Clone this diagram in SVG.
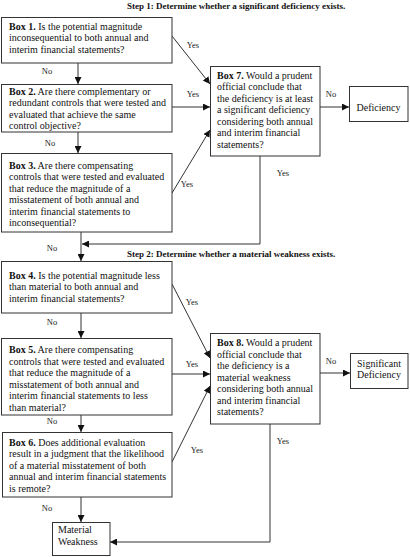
<svg xmlns="http://www.w3.org/2000/svg" width="410" height="557" viewBox="0 0 410 557">
<style>
.box{fill:#fff;stroke:#333;stroke-width:1}
.t{font-family:"Liberation Serif","Times New Roman",serif;font-size:10px;fill:#111}
.b{font-weight:bold}
.lbl{font-family:"Liberation Serif","Times New Roman",serif;font-size:8.5px;fill:#222}
.step{font-family:"Liberation Serif","Times New Roman",serif;font-size:9px;font-weight:bold;fill:#111}
.c{fill:none;stroke:#333;stroke-width:1}
</style>
<defs>
<marker id="ah" viewBox="0 0 10 10" refX="10" refY="5" markerWidth="7" markerHeight="7" markerUnits="userSpaceOnUse" orient="auto">
<path d="M0,0 L10,5 L0,10 z" fill="#111"/>
</marker>
</defs>
<rect width="410" height="557" fill="#fff"/>
<text class="step" x="127" y="8.5">Step 1: Determine whether a significant deficiency exists.</text>
<text class="step" x="127" y="256.5">Step 2: Determine whether a material weakness exists.</text>

<g id="connectors">
<path class="c" d="M78,63 V84" marker-end="url(#ah)"/>
<path class="c" d="M78,132 V153" marker-end="url(#ah)"/>
<path class="c" d="M81,232 V261" marker-end="url(#ah)"/>
<path class="c" d="M81,313 V338" marker-end="url(#ah)"/>
<path class="c" d="M81,415 V432" marker-end="url(#ah)"/>
<path class="c" d="M81,497 V522" marker-end="url(#ah)"/>
<path class="c" d="M172,36 L210,84" marker-end="url(#ah)"/>
<path class="c" d="M172,107 H210" marker-end="url(#ah)"/>
<path class="c" d="M172,193 L210,130" marker-end="url(#ah)"/>
<path class="c" d="M320,107 H349" marker-end="url(#ah)"/>
<path class="c" d="M260,156 V244 H82" marker-end="url(#ah)"/>
<path class="c" d="M172,284 L210,358" marker-end="url(#ah)"/>
<path class="c" d="M172,374 H210" marker-end="url(#ah)"/>
<path class="c" d="M172,462 L210,386" marker-end="url(#ah)"/>
<path class="c" d="M320,373 H350" marker-end="url(#ah)"/>
<path class="c" d="M270,424 V542 H110" marker-end="url(#ah)"/>
<text class="lbl" x="47" y="74" text-anchor="middle">No</text>
<text class="lbl" x="50" y="146" text-anchor="middle">No</text>
<text class="lbl" x="52" y="251" text-anchor="middle">No</text>
<text class="lbl" x="52" y="325" text-anchor="middle">No</text>
<text class="lbl" x="52" y="424" text-anchor="middle">No</text>
<text class="lbl" x="47" y="511" text-anchor="middle">No</text>
<text class="lbl" x="193" y="48" text-anchor="middle">Yes</text>
<text class="lbl" x="193" y="97" text-anchor="middle">Yes</text>
<text class="lbl" x="187" y="187" text-anchor="middle">Yes</text>
<text class="lbl" x="283" y="176" text-anchor="middle">Yes</text>
<text class="lbl" x="331" y="97" text-anchor="middle">No</text>
<text class="lbl" x="192" y="305" text-anchor="middle">Yes</text>
<text class="lbl" x="192" y="367" text-anchor="middle">Yes</text>
<text class="lbl" x="197" y="453" text-anchor="middle">Yes</text>
<text class="lbl" x="331" y="364" text-anchor="middle">No</text>
<text class="lbl" x="283" y="444" text-anchor="middle">Yes</text>
</g>

<g id="box1">
<rect class="box" x="1.5" y="17.5" width="170.5" height="45.5"/>
<text class="t" x="9" y="29.5"><tspan class="b">Box 1.</tspan> Is the potential magnitude<tspan x="9" dy="11.5">inconsequential to both annual and</tspan><tspan x="9" dy="11.5">interim financial statements?</tspan></text>
</g>
<g id="box2">
<rect class="box" x="1.5" y="84.5" width="170.5" height="47.5"/>
<text class="t" x="9" y="94.5"><tspan class="b">Box 2.</tspan> Are there complementary or<tspan x="9" dy="11.5">redundant controls that were tested and</tspan><tspan x="9" dy="11.5">evaluated that achieve the same</tspan><tspan x="9" dy="11.5">control objective?</tspan></text>
</g>
<g id="box3">
<rect class="box" x="1.5" y="153.5" width="170.5" height="78.5"/>
<text class="t" x="9" y="168.5"><tspan class="b">Box 3.</tspan> Are there compensating<tspan x="9" dy="11.5">controls that were tested and evaluated</tspan><tspan x="9" dy="11.5">that reduce the magnitude of a</tspan><tspan x="9" dy="11.5">misstatement of both annual and</tspan><tspan x="9" dy="11.5">interim financial statements to</tspan><tspan x="9" dy="11.5">inconsequential?</tspan></text>
</g>
<g id="box4">
<rect class="box" x="1.5" y="261.5" width="170.5" height="51.5"/>
<text class="t" x="9" y="278.5"><tspan class="b">Box 4.</tspan> Is the potential magnitude less<tspan x="9" dy="11.5">than material to both annual and</tspan><tspan x="9" dy="11.5">interim financial statements?</tspan></text>
</g>
<g id="box5">
<rect class="box" x="1.5" y="338.5" width="170.5" height="76.5"/>
<text class="t" x="9" y="353"><tspan class="b">Box 5.</tspan> Are there compensating<tspan x="9" dy="11.5">controls that were tested and evaluated</tspan><tspan x="9" dy="11.5">that reduce the magnitude of a</tspan><tspan x="9" dy="11.5">misstatement of both annual and</tspan><tspan x="9" dy="11.5">interim financial statements to less</tspan><tspan x="9" dy="11.5">than material?</tspan></text>
</g>
<g id="box6">
<rect class="box" x="2.5" y="432.5" width="169.5" height="64.5"/>
<text class="t" x="9" y="445.5"><tspan class="b">Box 6.</tspan> Does additional evaluation<tspan x="9" dy="11.5">result in a judgment that the likelihood</tspan><tspan x="9" dy="11.5">of a material misstatement of both</tspan><tspan x="9" dy="11.5">annual and interim financial statements</tspan><tspan x="9" dy="11.5">is remote?</tspan></text>
</g>
<g id="box7">
<rect class="box" x="210.5" y="66.5" width="109.5" height="89.5"/>
<text class="t" x="217" y="78.5"><tspan class="b">Box 7.</tspan> Would a prudent<tspan x="217" dy="11.5">official conclude that</tspan><tspan x="217" dy="11.5">the deficiency is at least</tspan><tspan x="217" dy="11.5">a significant deficiency</tspan><tspan x="217" dy="11.5">considering both annual</tspan><tspan x="217" dy="11.5">and interim financial</tspan><tspan x="217" dy="11.5">statements?</tspan></text>
</g>
<g id="box8">
<rect class="box" x="210.5" y="333.5" width="109.5" height="90.5"/>
<text class="t" x="217" y="346"><tspan class="b">Box 8.</tspan> Would a prudent<tspan x="217" dy="11.5">official conclude that</tspan><tspan x="217" dy="11.5">the deficiency is a</tspan><tspan x="217" dy="11.5">material weakness</tspan><tspan x="217" dy="11.5">considering both annual</tspan><tspan x="217" dy="11.5">and interim financial</tspan><tspan x="217" dy="11.5">statements?</tspan></text>
</g>
<g id="deficiency">
<rect class="box" x="349.5" y="86.5" width="58.5" height="35"/>
<text class="t" x="378.5" y="110.5" text-anchor="middle">Deficiency</text>
</g>
<g id="significant-deficiency">
<rect class="box" x="350.5" y="353.5" width="57.5" height="35"/>
<text class="t" x="379" y="366.5" text-anchor="middle">Significant<tspan x="379" dy="11.5">Deficiency</tspan></text>
</g>
<g id="material-weakness">
<rect class="box" x="52.5" y="522.5" width="57.5" height="33"/>
<text class="t" x="58" y="533">Material<tspan x="58" dy="11.5">Weakness</tspan></text>
</g>
</svg>
